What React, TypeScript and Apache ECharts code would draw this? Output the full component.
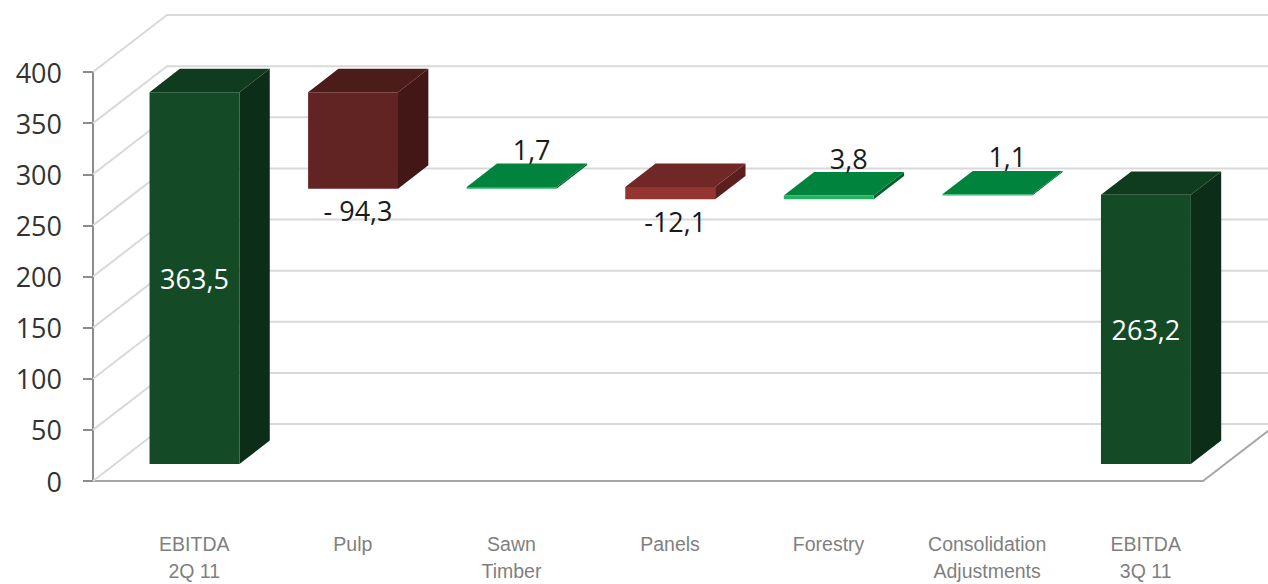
import React, { useEffect, useRef } from "react";
import * as echarts from "echarts";

const categories = [
  "EBITDA\n2Q 11",
  "Pulp",
  "Sawn\nTimber",
  "Panels",
  "Forestry",
  "Consolidation\nAdjustments",
  "EBITDA\n3Q 11",
];
const values = [363.5, -94.3, 1.7, -12.1, 3.8, 1.1, 263.2];
const isTotal = [true, false, false, false, false, false, true];
const valueLabels = ["363,5", "- 94,3", "1,7", "-12,1", "3,8", "1,1", "263,2"];
const yTicks = [0, 50, 100, 150, 200, 250, 300, 350, 400];

// face colours (front, side, top) per bar
const faceStyles = [
  { front: "#154a27", side: "#0c2e18", top: "#0f3b1f" },
  { front: "#622423", side: "#421716", top: "#4c1c1b" },
  { front: "#27b060", side: "#00612b", top: "#00843d" },
  { front: "#943532", side: "#5c1f1d", top: "#6f2826" },
  { front: "#27b060", side: "#00612b", top: "#00843d" },
  { front: "#27b060", side: "#00612b", top: "#00843d" },
  { front: "#154a27", side: "#0c2e18", top: "#0f3b1f" },
];

// 3D projection
const DEPTH_X = 74;
const DEPTH_Y = -57;
const BAR_FRONT = 0.3;
const BAR_DEPTH = 0.41;

function buildWaterfall() {
  let running = 0;
  return values.map((v, i) => {
    let lo: number, hi: number;
    if (isTotal[i]) {
      lo = 0;
      hi = v;
      running = v;
    } else {
      const start = running;
      const end = running + v;
      lo = Math.min(start, end);
      hi = Math.max(start, end);
      running = end;
    }
    return [i, lo, hi];
  });
}

export default function App() {
  const ref = useRef<HTMLDivElement>(null);
  useEffect(() => {
    if (!ref.current) return;
    const chart = echarts.init(ref.current, undefined, { renderer: "svg" });
    const bars = buildWaterfall();

    const option: any = {
      animation: false,
      grid: { left: 93, right: 65, top: 72, bottom: 100, containLabel: false },
      xAxis: {
        type: "category",
        data: categories,
        boundaryGap: true,
        axisLine: { show: true, lineStyle: { color: "#a6a6a6", width: 2 } },
        axisTick: { show: false },
        splitLine: { show: false },
        axisLabel: {
          interval: 0,
          color: "#7f7f7f",
          fontSize: 19.5,
          fontFamily: "Liberation Sans, Arial, sans-serif",
          lineHeight: 27,
          margin: 49,
          padding: [0, 0, 0, 44],
        },
      },
      yAxis: {
        type: "value",
        min: 0,
        max: 400,
        interval: 50,
        axisLine: { show: true, lineStyle: { color: "#8c8c8c", width: 2 } },
        axisTick: { show: true, length: 10, lineStyle: { color: "#8c8c8c", width: 2 } },
        splitLine: { show: false },
        axisLabel: {
          color: "#333333",
          fontSize: 27,
          fontFamily: "Open Sans, sans-serif",
          margin: 31,
        },
      },
      series: [
        {
          type: "custom",
          name: "walls",
          silent: true,
          z: 1,
          data: yTicks.map((t) => [0, t]),
          encode: { x: 0, y: 1 },
          renderItem: (params: any, api: any) => {
            const cs = params.coordSys;
            const y = api.coord([0, api.value(1)])[1];
            const x0 = cs.x;
            const W = api.getWidth();
            const children: any[] = [
              {
                type: "polyline",
                shape: {
                  points: [
                    [x0, y],
                    [x0 + DEPTH_X, y + DEPTH_Y],
                    [W + 10, y + DEPTH_Y],
                  ],
                },
                style: { stroke: "#d9d9d9", lineWidth: 2, fill: null },
              },
            ];
            if (api.value(1) === 0) {
              const xr = cs.x + cs.width;
              children.push({
                type: "line",
                shape: { x1: xr, y1: y, x2: xr + DEPTH_X, y2: y + DEPTH_Y },
                style: { stroke: "#a6a6a6", lineWidth: 2 },
              });
            }
            return { type: "group", children };
          },
        },
        {
          type: "custom",
          name: "bars",
          silent: true,
          z: 3,
          data: bars,
          encode: { x: 0, y: [1, 2] },
          renderItem: (params: any, api: any) => {
            const i = api.value(0);
            const lo = api.value(1);
            const hi = api.value(2);
            const pLo = api.coord([i, lo]);
            const pHi = api.coord([i, hi]);
            const band = api.size([1, 0])[0];
            const halfW = (band * 0.567) / 2;
            const ox = DEPTH_X * BAR_FRONT;
            const oy = DEPTH_Y * BAR_FRONT;
            const dx = DEPTH_X * BAR_DEPTH;
            const dy = DEPTH_Y * BAR_DEPTH;
            const cx = pLo[0] + ox;
            const L = cx - halfW;
            const R = cx + halfW;
            const T = pHi[1] + oy;
            const B = pLo[1] + oy;
            const st = faceStyles[i];
            const children: any[] = [
              {
                type: "polygon",
                shape: { points: [[R, T], [R + dx, T + dy], [R + dx, B + dy], [R, B]] },
                style: { fill: st.side },
              },
              {
                type: "polygon",
                shape: { points: [[L, T], [R, T], [R + dx, T + dy], [L + dx, T + dy]] },
                style: { fill: st.top },
              },
              {
                type: "rect",
                shape: { x: L, y: T, width: R - L, height: Math.max(B - T, 1) },
                style: { fill: st.front },
              },
            ];
            const font = { fontSize: 27, fontFamily: "Open Sans, sans-serif" };
            if (isTotal[i]) {
              children.push({
                type: "text",
                style: {
                  text: valueLabels[i],
                  x: cx,
                  y: (T + B) / 2,
                  fill: "#ffffff",
                  align: "center",
                  verticalAlign: "middle",
                  ...font,
                },
              });
            } else if (values[i] < 0) {
              children.push({
                type: "text",
                style: {
                  text: valueLabels[i],
                  x: cx + 5,
                  y: B + 22,
                  fill: "#1a1a1a",
                  align: "center",
                  verticalAlign: "middle",
                  ...font,
                },
              });
            } else {
              children.push({
                type: "text",
                style: {
                  text: valueLabels[i],
                  x: cx + 20,
                  y: T + dy - 14,
                  fill: "#1a1a1a",
                  align: "center",
                  verticalAlign: "middle",
                  ...font,
                },
              });
            }
            return { type: "group", children };
          },
        },
      ],
    };
    chart.setOption(option);
    return () => chart.dispose();
  }, []);

  return (
    <div
      ref={ref}
      style={{ position: "fixed", left: 0, top: 0, width: 1268, height: 584, background: "#ffffff" }}
    />
  );
}
